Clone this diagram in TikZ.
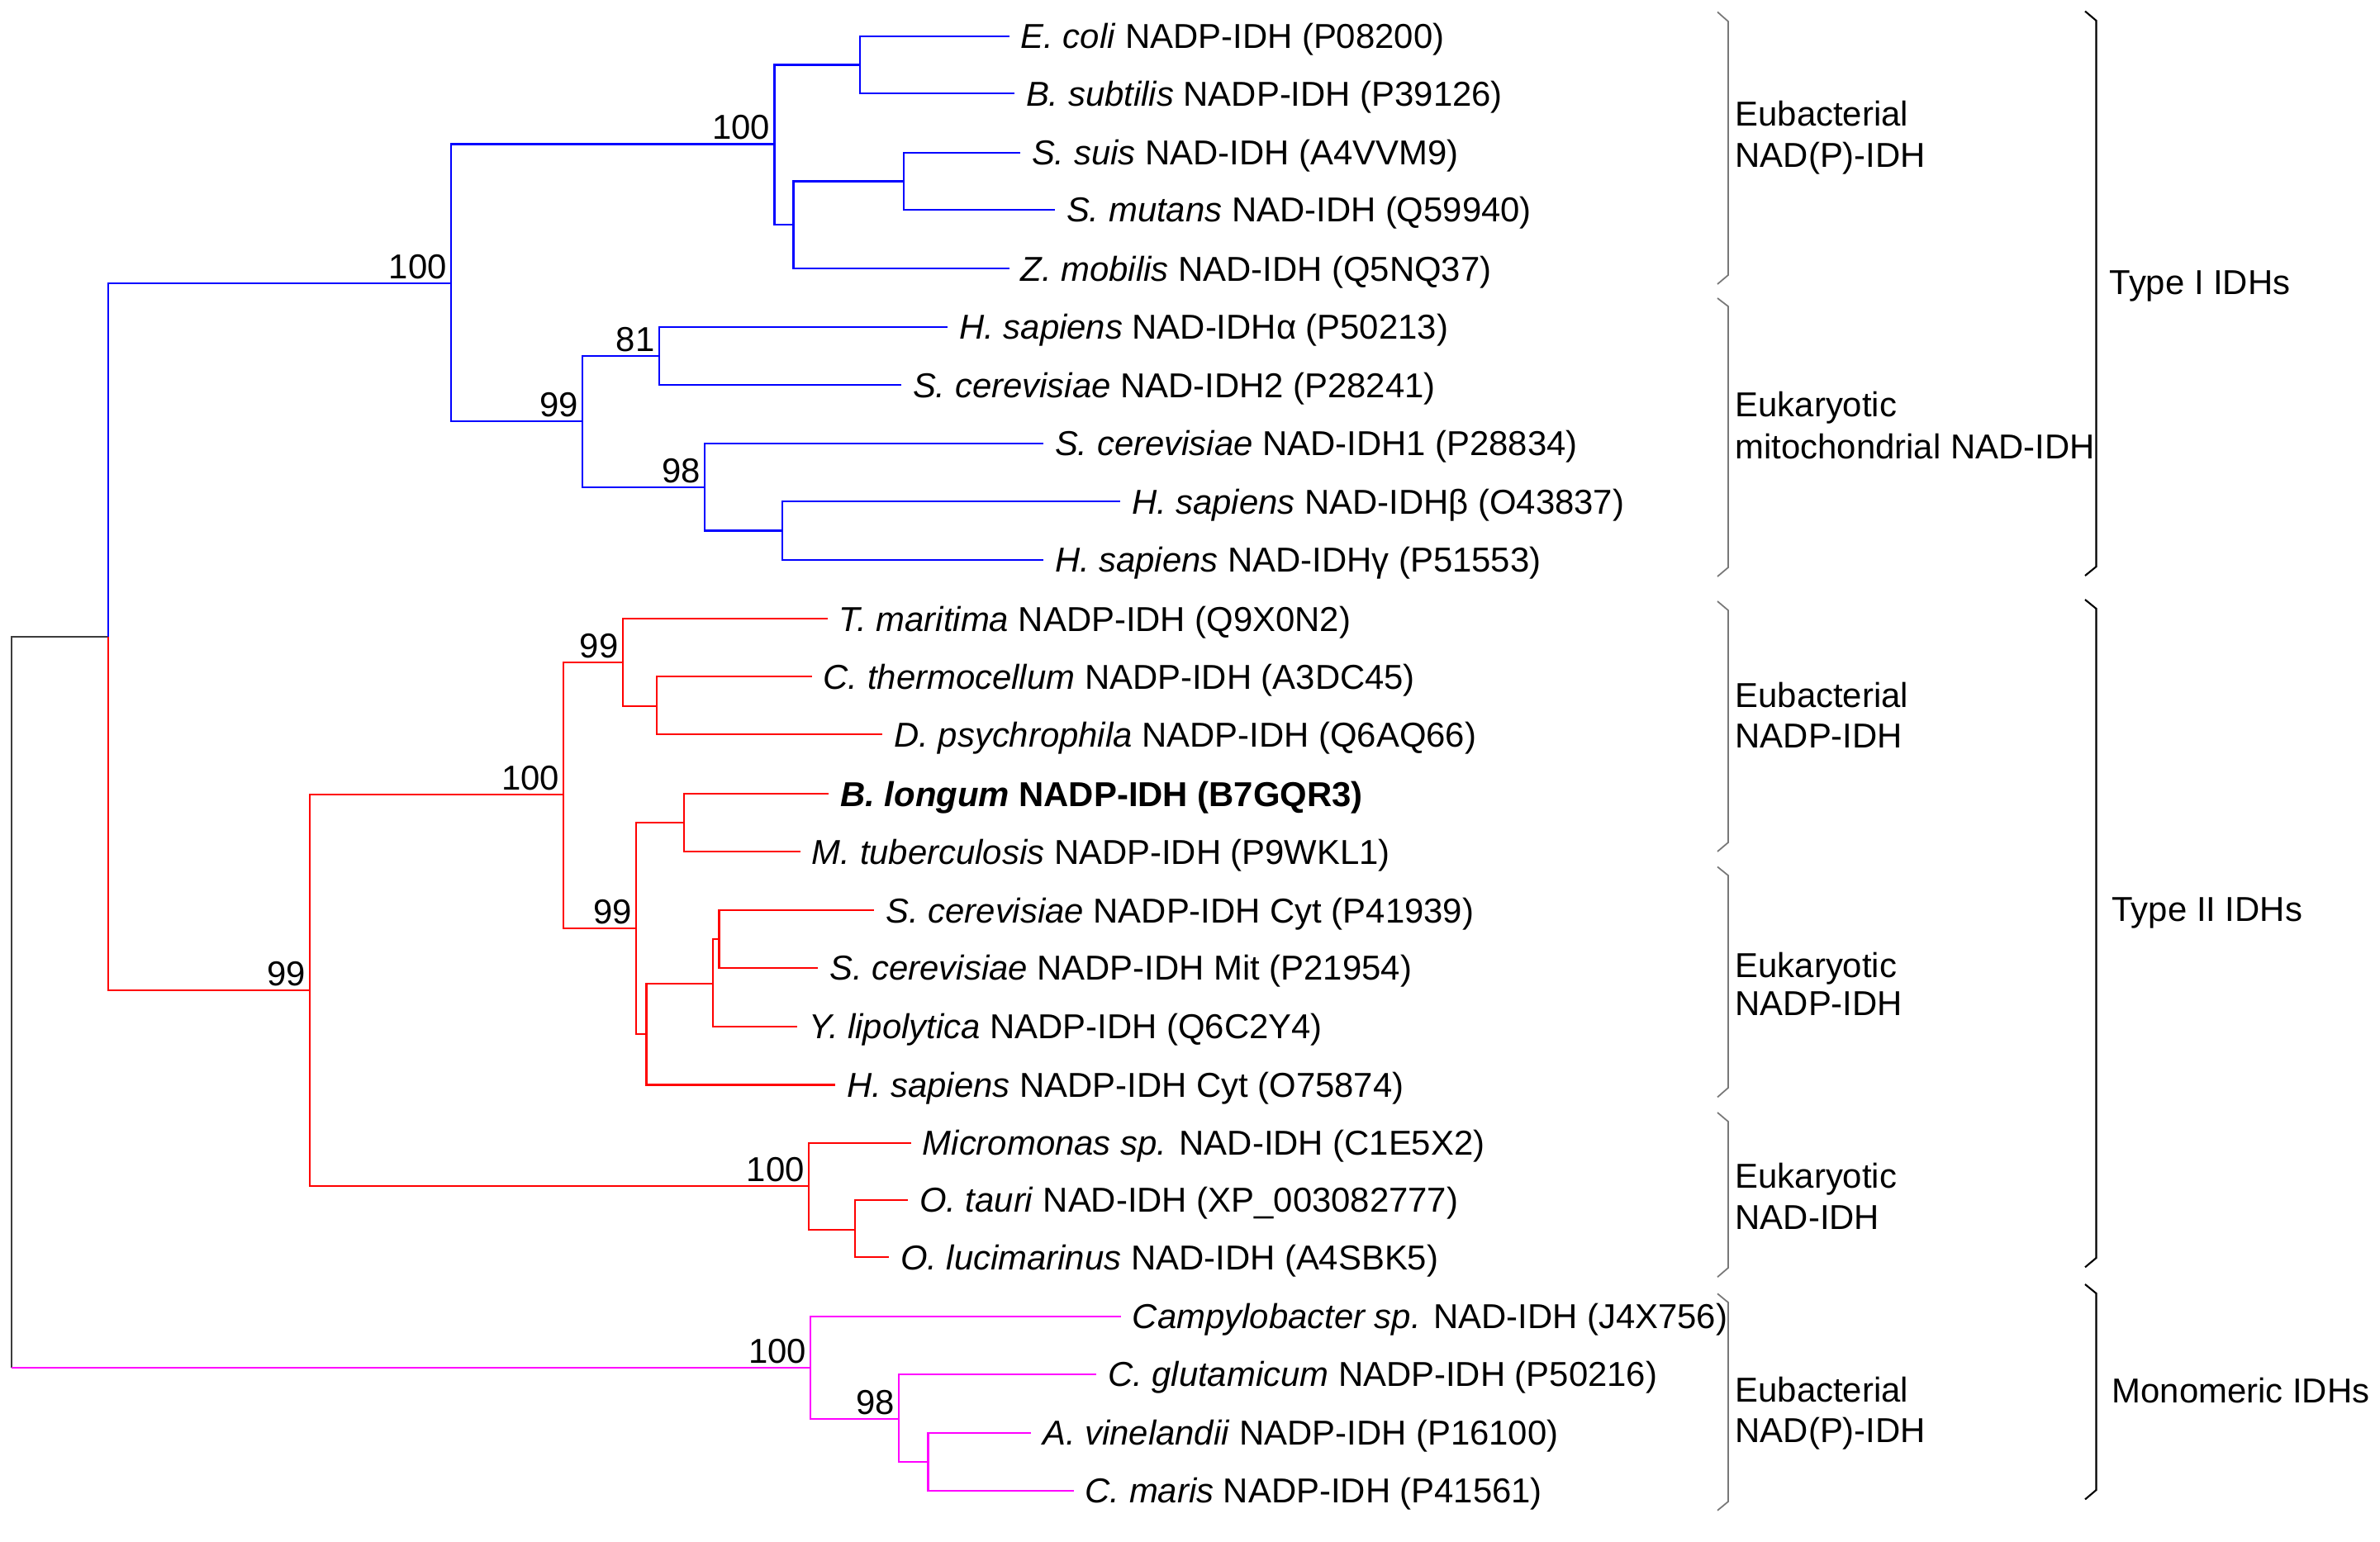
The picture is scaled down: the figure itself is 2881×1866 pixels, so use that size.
\documentclass[tikz,border=0pt]{standalone}
\usepackage{fontspec}
\setmainfont{Liberation Sans}
\newcommand\lblfont{\fontsize{11.9pt}{14pt}\selectfont}
\definecolor{treeblue}{RGB}{0,0,255}
\definecolor{treered}{RGB}{255,0,0}
\definecolor{treemag}{RGB}{255,0,255}
\definecolor{rootgray}{RGB}{60,60,60}
\definecolor{brkgray}{RGB}{120,120,120}
\begin{document}
\begin{tikzpicture}[x=0.01cm,y=-0.01cm,
  tree/.style={line width=0.6pt},
  bl/.style={tree,draw=treeblue},
  rd/.style={tree,draw=treered},
  mg/.style={tree,draw=treemag},
  rt/.style={tree,draw=rootgray},
  leaf/.style={anchor=west,inner xsep=3.8pt,inner ysep=0pt,text height=8.5pt,text depth=0pt,font=\lblfont},
  boot/.style={anchor=south east,inner sep=1.3pt,font=\lblfont},
  grp/.style={anchor=base west,inner sep=0pt,font=\lblfont},
  brk/.style={line width=0.5pt,draw=brkgray},
  obrk/.style={line width=0.6pt,draw=black}]
\useasboundingbox (0,0) rectangle (2881,1866);

% internal nodes (x, connection y)
\coordinate (root) at (14,1212);
\coordinate (nA) at (130.7,771.4);
\coordinate (t1) at (546,342.7);
\coordinate (e1) at (937.5,174.5);
\coordinate (e1a) at (1040.7,78.5);
\coordinate (e1b) at (960.5,272.4);
\coordinate (e1c) at (1094,219.5);
\coordinate (m1) at (705.4,510);
\coordinate (m2) at (797.8,431.4);
\coordinate (m3) at (853.3,590);
\coordinate (m4) at (947,642.5);
\coordinate (t2) at (375,1199);
\coordinate (n1) at (682.4,961.8);
\coordinate (b1) at (753.8,801.9);
\coordinate (b2) at (794.6,855.4);
\coordinate (c1) at (770.4,1123.9);
\coordinate (c2) at (828.4,996);
\coordinate (c3) at (782.5,1251.8);
\coordinate (c4) at (862.9,1190.8);
\coordinate (c5) at (870.5,1137.2);
\coordinate (k1) at (979,1436.2);
\coordinate (k2) at (1034.7,1488.9);
\coordinate (mono) at (981.1,1656);
\coordinate (g1) at (1088.3,1718);
\coordinate (g2) at (1123.5,1770);

% leaves
\node[leaf] (ecoli) at (1221.7,43.6) {\textit{E. coli} NADP-IDH (P08200)};
\node[leaf] (bsub) at (1228,113.4) {\textit{B. subtilis} NADP-IDH (P39126)};
\node[leaf] (ssuis) at (1235,184.7) {\textit{S. suis} NAD-IDH (A4VVM9)};
\node[leaf] (smut) at (1277,254) {\textit{S. mutans} NAD-IDH (Q59940)};
\node[leaf] (zmob) at (1221.7,325.2) {\textit{Z. mobilis} NAD-IDH (Q5NQ37)};
\node[leaf] (hsa) at (1147.3,396) {\textit{H. sapiens} NAD-IDHα (P50213)};
\node[leaf] (sce2) at (1091,466.3) {\textit{S. cerevisiae} NAD-IDH2 (P28241)};
\node[leaf] (sce1) at (1263,537) {\textit{S. cerevisiae} NAD-IDH1 (P28834)};
\node[leaf] (hsb) at (1356,607.4) {\textit{H. sapiens} NAD-IDHβ (O43837)};
\node[leaf] (hsg) at (1263,677.6) {\textit{H. sapiens} NAD-IDHγ (P51553)};
\node[leaf] (tmar) at (1001.8,749.1) {\textit{T. maritima} NADP-IDH (Q9X0N2)};
\node[leaf] (cthe) at (982.7,819.2) {\textit{C. thermocellum} NADP-IDH (A3DC45)};
\node[leaf] (dpsy) at (1068.4,889.3) {\textit{D. psychrophila} NADP-IDH (Q6AQ66)};
\node[leaf] (blon) at (1003.3,961.2) {\textbf{\textit{B. longum} NADP-IDH (B7GQR3)}};
\node[leaf] (mtub) at (968.9,1031.2) {\textit{M. tuberculosis} NADP-IDH (P9WKL1)};
\node[leaf] (scyt) at (1058.4,1102.3) {\textit{S. cerevisiae} NADP-IDH Cyt (P41939)};
\node[leaf] (smit) at (990.3,1171.9) {\textit{S. cerevisiae} NADP-IDH Mit (P21954)};
\node[leaf] (ylip) at (965,1242.8) {\textit{Y. lipolytica} NADP-IDH (Q6C2Y4)};
\node[leaf] (hcyt) at (1011,1313.5) {\textit{H. sapiens} NADP-IDH Cyt (O75874)};
\node[leaf] (micro) at (1102.8,1383.9) {\textit{Micromonas sp.} NAD-IDH (C1E5X2)};
\node[leaf] (otau) at (1099,1453) {\textit{O. tauri} NAD-IDH (XP\_003082777)};
\node[leaf] (oluc) at (1076,1522.1) {\textit{O. lucimarinus} NAD-IDH (A4SBK5)};
\node[leaf] (camp) at (1356.9,1594) {\textit{Campylobacter sp.} NAD-IDH (J4X756)};
\node[leaf] (cglu) at (1327,1664) {\textit{C. glutamicum} NADP-IDH (P50216)};
\node[leaf] (avin) at (1248.2,1735) {\textit{A. vinelandii} NADP-IDH (P16100)};
\node[leaf] (cmar) at (1299.5,1805) {\textit{C. maris} NADP-IDH (P41561)};

% root
\draw[rt] (root) |- (nA);
\draw[rt] (root) -- (root |- mono);
\draw[mg] (root |- mono) -- (mono);
% Type I (blue)
\draw[bl] (nA) |- (t1);
\draw[bl] (t1) |- (e1);
\draw[bl] (t1) |- (m1);
\draw[bl] (e1) |- (e1a);
\draw[bl] (e1) |- (e1b);
\draw[bl] (e1a) |- (ecoli.west);
\draw[bl] (e1a) |- (bsub.west);
\draw[bl] (e1b) |- (e1c);
\draw[bl] (e1b) |- (zmob.west);
\draw[bl] (e1c) |- (ssuis.west);
\draw[bl] (e1c) |- (smut.west);
\draw[bl] (m1) |- (m2);
\draw[bl] (m1) |- (m3);
\draw[bl] (m2) |- (hsa.west);
\draw[bl] (m2) |- (sce2.west);
\draw[bl] (m3) |- (sce1.west);
\draw[bl] (m3) |- (m4);
\draw[bl] (m4) |- (hsb.west);
\draw[bl] (m4) |- (hsg.west);
% Type II (red)
\draw[rd] (nA) |- (t2);
\draw[rd] (t2) |- (n1);
\draw[rd] (t2) |- (k1);
\draw[rd] (n1) |- (b1);
\draw[rd] (n1) |- (c1);
\draw[rd] (b1) |- (tmar.west);
\draw[rd] (b1) |- (b2);
\draw[rd] (b2) |- (cthe.west);
\draw[rd] (b2) |- (dpsy.west);
\draw[rd] (c1) |- (c2);
\draw[rd] (c1) |- (c3);
\draw[rd] (c2) |- (blon.west);
\draw[rd] (c2) |- (mtub.west);
\draw[rd] (c3) |- (c4);
\draw[rd] (c3) |- (hcyt.west);
\draw[rd] (c4) |- (c5);
\draw[rd] (c4) |- (ylip.west);
\draw[rd] (c5) |- (scyt.west);
\draw[rd] (c5) |- (smit.west);
\draw[rd] (k1) |- (micro.west);
\draw[rd] (k1) |- (k2);
\draw[rd] (k2) |- (otau.west);
\draw[rd] (k2) |- (oluc.west);
% Monomeric (magenta)
\draw[mg] (mono) |- (camp.west);
\draw[mg] (mono) |- (g1);
\draw[mg] (g1) |- (cglu.west);
\draw[mg] (g1) |- (g2);
\draw[mg] (g2) |- (avin.west);
\draw[mg] (g2) |- (cmar.west);

% bootstrap values
\node[boot] (bt1) at (t1) {100};
\node[boot] (be1) at (e1) {100};
\node[boot] (bm1) at (m1) {99};
\node[boot] (bm2) at (m2) {81};
\node[boot] (bm3) at (m3) {98};
\node[boot] (bt2) at (t2) {99};
\node[boot] (bn1) at (n1) {100};
\node[boot] (bb1) at (b1) {99};
\node[boot] (bc1) at (c1) {99};
\node[boot] (bk1) at (k1) {100};
\node[boot] (bmono) at (mono) {100};
\node[boot] (bg1) at (g1) {98};

% inner brackets
\draw[brk] (2079,14.5) -- (2092,26) -- (2092,333) -- (2079,344);
\draw[brk] (2079,361) -- (2092,371) -- (2092,687) -- (2079,698);
\draw[brk] (2079,728) -- (2092,739) -- (2092,1020) -- (2079,1031);
\draw[brk] (2079,1049.5) -- (2092,1060) -- (2092,1317) -- (2079,1328.4);
\draw[brk] (2079,1347) -- (2092,1358) -- (2092,1535) -- (2079,1546.2);
\draw[brk] (2079,1566.3) -- (2092,1577) -- (2092,1818) -- (2079,1828.8);
% outer brackets
\draw[obrk] (2524,13.6) -- (2537.5,25) -- (2537.5,686) -- (2524,697);
\draw[obrk] (2524,726) -- (2537.5,737) -- (2537.5,1523) -- (2524,1534.3);
\draw[obrk] (2524,1555) -- (2537.5,1566) -- (2537.5,1804) -- (2524,1815.4);

% group labels
\node[grp] (g1l1) at (2100,152.7) {Eubacterial};
\node[grp] (g1l2) at (2100,202.6) {NAD(P)-IDH};
\node[grp] (g2l1) at (2100,504) {Eukaryotic};
\node[grp] (g2l2) at (2100,555) {mitochondrial NAD-IDH};
\node[grp] (g3l1) at (2100,856) {Eubacterial};
\node[grp] (g3l2) at (2100,905) {NADP-IDH};
\node[grp] (g4l1) at (2100,1183) {Eukaryotic};
\node[grp] (g4l2) at (2100,1229) {NADP-IDH};
\node[grp] (g5l1) at (2100,1438) {Eukaryotic};
\node[grp] (g5l2) at (2100,1488) {NAD-IDH};
\node[grp] (g6l1) at (2100,1697) {Eubacterial};
\node[grp] (g6l2) at (2100,1746) {NAD(P)-IDH};
\node[grp] (typeI) at (2553,356.5) {Type I IDHs};
\node[grp] (typeII) at (2556,1115.5) {Type II IDHs};
\node[grp] (monoI) at (2556,1698) {Monomeric IDHs};
\end{tikzpicture}
\end{document}
